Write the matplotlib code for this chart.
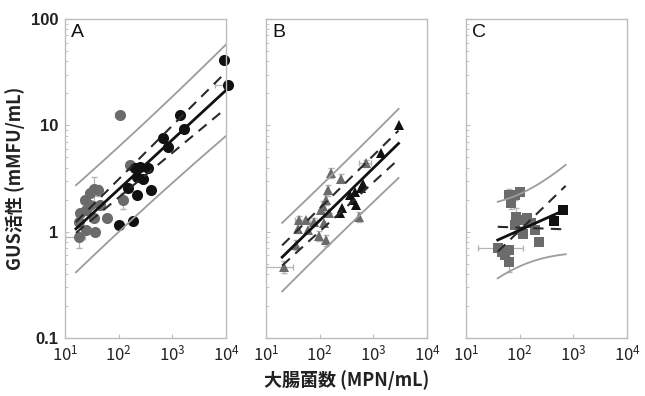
import matplotlib.pyplot as plt
import numpy as np

plt.rcParams['font.family'] = ['Noto Sans CJK JP', 'DejaVu Sans']
plt.rcParams['mathtext.fontset'] = 'custom'
plt.rcParams['mathtext.rm'] = 'Liberation Sans'

# ---- panel A (circles) ----
a_grey_x = [105, 163, 35, 42, 29, 23.5, 29, 25, 19, 34, 60, 18, 25, 36, 18, 122, 45]
a_grey_y = [12.5, 4.2, 2.5, 2.46, 2.3, 1.98, 1.78, 1.6, 1.49, 1.33, 1.33, 1.24, 1.03, 1.0, 0.9, 1.98, 1.8]
a_grey_xlo = [18, 25, 0, 0, 0, 4, 0, 0, 0, 0, 10, 0, 0, 0, 8, 0, 0]
a_grey_xhi = [18, 25, 0, 0, 0, 4, 0, 0, 0, 0, 10, 0, 0, 0, 6, 0, 0]
a_grey_yerr = [0.6, 0.4, 0.8, 0.3, 0, 0, 0, 0, 0, 0, 0, 0, 0, 0, 0.2, 0.35, 0]
a_black_x = [9100, 11000, 1380, 1630, 680, 830, 200, 250, 350, 216, 290, 148, 216, 400, 100, 182]
a_black_y = [41, 24, 12.5, 9.2, 7.6, 6.3, 4.0, 4.1, 4.0, 3.3, 3.16, 2.55, 2.2, 2.46, 1.15, 1.26]
a_black_xlo = [0, 4800, 0, 0, 0, 0, 0, 0, 0, 0, 0, 0, 0, 0, 0, 0]
a_black_xhi = [0, 1600, 0, 0, 0, 0, 0, 0, 0, 0, 0, 0, 0, 0, 0, 0]
a_black_yerr = [0, 0, 0, 0, 0, 0.6, 0, 0, 0, 0, 0, 0, 0, 0, 0, 0]

# ---- panel B (triangles) ----
b_grey_x = [163, 720, 250, 131, 141, 105, 115, 550, 42, 56, 79, 123, 39, 60, 98, 131, 36, 22, 150]
b_grey_y = [3.6, 4.4, 3.16, 2.0, 2.45, 1.6, 1.75, 1.38, 1.29, 1.29, 1.24, 1.2, 1.07, 1.03, 0.91, 0.83, 0.75, 0.47, 1.5]
b_grey_xlo = [0, 180, 0, 0, 0, 0, 0, 0, 8, 0, 12, 0, 0, 0, 0, 0, 0, 12, 0]
b_grey_xhi = [0, 180, 0, 0, 0, 0, 0, 0, 8, 0, 12, 0, 0, 0, 0, 0, 0, 10, 0]
b_grey_yerr = [0.4, 0.3, 0.3, 0.2, 0.3, 0, 0.2, 0.15, 0.1, 0, 0.1, 0, 0.1, 0, 0.1, 0.1, 0.08, 0.06, 0]
b_black_x = [3000, 1380, 630, 590, 460, 425, 480, 260, 240, 360]
b_black_y = [10.1, 5.5, 2.8, 2.57, 2.37, 2.0, 1.78, 1.66, 1.49, 2.2]

# ---- panel C (squares) ----
c_grey_x = [100, 81, 62, 87, 109, 135, 166, 190, 81, 117, 230, 40, 46, 53, 62, 62, 70]
c_grey_y = [2.37, 2.2, 2.2, 1.38, 1.28, 1.33, 1.2, 1.03, 1.15, 0.96, 0.8, 0.70, 0.65, 0.60, 0.67, 0.52, 1.85]
c_grey_xlo = [0, 0, 0, 0, 0, 0, 0, 0, 0, 0, 0, 23, 0, 0, 0, 0, 0]
c_grey_xhi = [0, 0, 0, 0, 0, 0, 0, 0, 0, 0, 0, 77, 0, 0, 0, 0, 0]
c_grey_yerr = [0.2, 0.2, 0.3, 0.3, 0, 0, 0, 0, 0.2, 0, 0, 0, 0, 0, 0, 0.1, 0.2]
c_black_x = [630, 440]
c_black_y = [1.6, 1.26]

# log-log fits: (intercept, slope) in log10 units
fit_line = {'A': (-0.534, 0.466), 'B': (-0.881, 0.493), 'C': (-0.438, 0.226)}
ci_upper = {'A': (-0.515, 0.504), 'B': (-0.777, 0.498), 'C': (-0.966, 0.489)}
ci_lower = {'A': (-0.516, 0.419), 'B': (-0.919, 0.461), 'C': (0.076, -0.019)}
# prediction band half-width: sqrt(c0 + c1*(log x - xm)^2)
pred_band = {'A': (0.16, 0.0077, 2.2), 'B': (0.10, 0.004, 2.3), 'C': (0.1156, 0.083, 2.0)}
x_range = {'A': (16, 9800), 'B': (20, 2950), 'C': (39, 720)}

grey = '#6b6b6b'
black = '#111111'
band_col = '#9c9c9c'
err_col = '#b5b5b5'

fig = plt.figure(figsize=(6.45, 3.96), dpi=100)
lefts = [65 / 645, 266 / 645, 466 / 645]
axes = [fig.add_axes([l, 58 / 396, 161 / 645, 319 / 396]) for l in lefts]

panels = [
    ('A', 'o', 8.0, a_grey_x, a_grey_y, [a_grey_xlo, a_grey_xhi], a_grey_yerr,
     a_black_x, a_black_y, [a_black_xlo, a_black_xhi], a_black_yerr),
    ('B', '^', 7.5, b_grey_x, b_grey_y, [b_grey_xlo, b_grey_xhi], b_grey_yerr,
     b_black_x, b_black_y, None, None),
    ('C', 's', 7.0, c_grey_x, c_grey_y, [c_grey_xlo, c_grey_xhi], c_grey_yerr,
     c_black_x, c_black_y, None, None),
]

for ax, (name, mk, ms, gx, gy, gxe, gye, kx, ky, kxe, kye) in zip(axes, panels):
    ax.errorbar(gx, gy, xerr=gxe, yerr=gye, fmt='none', ecolor=err_col,
                elinewidth=0.9, capsize=2, zorder=1)
    if kxe is not None:
        ax.errorbar(kx, ky, xerr=kxe, yerr=kye, fmt='none', ecolor=err_col,
                    elinewidth=0.9, capsize=2, zorder=1, clip_on=False)
    ax.plot(gx, gy, mk, color=grey, ms=ms, mew=0, zorder=2, clip_on=False)
    ax.plot(kx, ky, mk, color=black, ms=ms, mew=0, zorder=2, clip_on=False)

    lx = np.linspace(np.log10(x_range[name][0]), np.log10(x_range[name][1]), 100)
    b0, b1 = fit_line[name]
    fit = b0 + b1 * lx
    c0, c1, xm = pred_band[name]
    hw = np.sqrt(c0 + c1 * (lx - xm) ** 2)
    xs = 10 ** lx
    ax.plot(xs, 10 ** (fit + hw), color=band_col, lw=1.3, zorder=3)
    ax.plot(xs, 10 ** (fit - hw), color=band_col, lw=1.3, zorder=3)
    for u0, u1 in (ci_upper[name], ci_lower[name]):
        ax.plot(xs, 10 ** (u0 + u1 * lx), color='#2a2a2a', lw=1.5,
                dashes=(5, 3.5), zorder=3)
    ax.plot(xs, 10 ** fit, color=black, lw=2.0, zorder=4)

    ax.set_xscale('log')
    ax.set_yscale('log')
    ax.set_xlim(10, 1e4)
    ax.set_ylim(0.1, 100)
    ax.set_xticks([10, 100, 1000, 10000])
    ax.set_xticklabels([r'$\mathregular{10^{%d}}$' % k for k in range(1, 5)],
                       fontsize=12, color='#222222')
    for s in ax.spines.values():
        s.set_color('#bdbdbd')
        s.set_linewidth(1.0)
    ax.tick_params(which='both', direction='in', color='#bdbdbd')
    ax.tick_params(which='major', length=3, pad=5)
    ax.tick_params(which='minor', length=2)
    ax.text(0.04, 0.985, name, transform=ax.transAxes, ha='left', va='top',
            fontsize=14, color='#111111', family=['Liberation Sans'])

axes[0].set_yticks([0.1, 1, 10, 100])
axes[0].set_yticklabels(['0.1', '1', '10', '100'], fontsize=12,
                        fontweight='bold', color='#222222', family=['Liberation Sans'])
for ax in axes[1:]:
    ax.set_yticks([0.1, 1, 10, 100])
    ax.set_yticklabels([])

axes[0].set_ylabel('GUS活性 (mMFU/mL)', fontsize=13, fontweight='bold',
                   color='#222222', labelpad=4)
axes[1].set_xlabel('大腸菌数 (MPN/mL)', fontsize=13, fontweight='bold',
                   color='#222222', labelpad=4)

fig.savefig('out.png', dpi=100)
